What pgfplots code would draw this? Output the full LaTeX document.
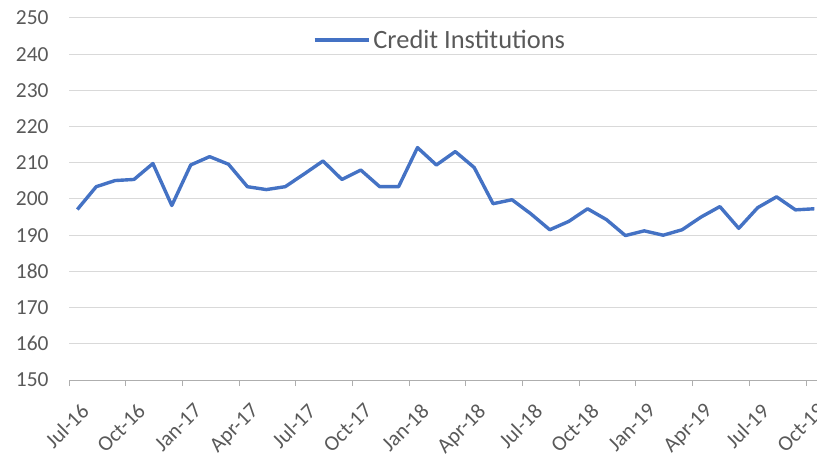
\documentclass[border=0pt]{standalone}
\usepackage{fontspec}
\setmainfont{Carlito}
\usepackage{pgfplots}
\pgfplotsset{compat=1.18}
\definecolor{excelblue}{HTML}{4472C4}
\definecolor{gridgray}{HTML}{D9D9D9}
\definecolor{txtgray}{HTML}{595959}
\begin{document}
\begin{tikzpicture}
\path[use as bounding box] (-69bp,-81bp) rectangle (748bp,380bp);
\begin{axis}[
  at={(0,0)}, anchor=south west,
  scale only axis,
  width=748bp, height=362bp,
  xmin=-0.44, xmax=39.14,
  ymin=150, ymax=250,
  ytick={150,160,...,250},
  xtick={-0.44,2.56,5.56,8.56,11.56,14.56,17.56,20.56,23.56,26.56,29.56,32.56,35.56,38.56},
  xticklabels={Jul-16,Oct-16,Jan-17,Apr-17,Jul-17,Oct-17,Jan-18,Apr-18,Jul-18,Oct-18,Jan-19,Apr-19,Jul-19,Oct-19},
  separate axis lines,
  axis x line*=bottom,
  axis y line*=left,
  x axis line style={draw=gridgray!80!black, line width=1bp, -},
  y axis line style={draw=none},
  ymajorgrids,
  grid style={draw=gridgray, line width=1bp},
  xtick style={draw=gridgray!80!black, line width=1bp},
  major tick length=6bp,
  tick align=outside,
  ytick style={draw=none},
  /pgf/number format/assume math mode=true,
  tick label style={font=\fontsize{21.5}{25}\selectfont, text=txtgray},
  yticklabel style={xshift=-11bp},
  xticklabel style={rotate=45, anchor=north east, inner sep=0bp, xshift=-3.8bp, yshift=-18.9bp},
  legend style={at={(0.4967,0.939)}, anchor=center, draw=none, fill=none,
    font=\fontsize{26.5}{30}\selectfont, text=txtgray, nodes={inner sep=3bp}},
  legend image code/.code={\draw[#1] (0bp,0bp) -- (54bp,0bp);},
]
\addplot[color=excelblue, line width=3.4bp, line join=round] coordinates {
(0,197.1) (1,203.4) (2,205.1) (3,205.4) (4,209.8) (5,198.2) (6,209.4) (7,211.7)
(8,209.6) (9,203.4) (10,202.6) (11,203.4) (12,206.9) (13,210.5) (14,205.4) (15,208.0)
(16,203.4) (17,203.4) (18,214.2) (19,209.4) (20,213.1) (21,208.7) (22,198.7) (23,199.8)
(24,195.9) (25,191.5) (26,193.8) (27,197.3) (28,194.3) (29,189.9) (30,191.2) (31,190.0)
(32,191.5) (33,195.0) (34,197.9) (35,191.9) (36,197.6) (37,200.6) (38,197.0) (39,197.3)
};
\addlegendentry{Credit Institutions}
\end{axis}
\end{tikzpicture}
\end{document}
